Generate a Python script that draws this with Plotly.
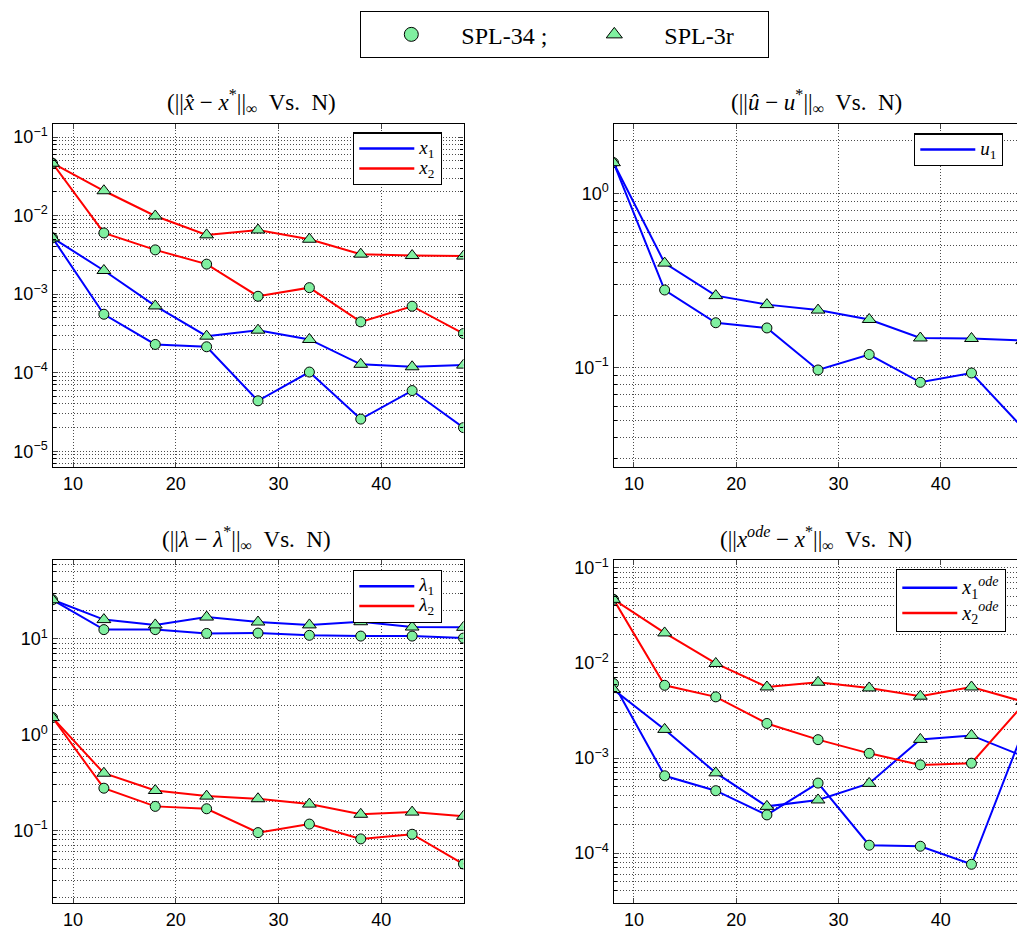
import plotly.graph_objects as go

# Number of collocation nodes
N = [8, 13, 18, 23, 28, 33, 38, 43, 48]

# ||x_hat - x*||_inf
x1_spl34 = [5.2e-3, 5.55e-4, 2.29e-4, 2.14e-4, 4.39e-5, 1.02e-4, 2.57e-5, 5.93e-5, 2.0e-5]
x1_spl3r = [5.2e-3, 2.0e-3, 7.08e-4, 2.92e-4, 3.48e-4, 2.65e-4, 1.28e-4, 1.19e-4, 1.25e-4]
x2_spl34 = [4.64e-2, 6.01e-3, 3.66e-3, 2.41e-3, 9.4e-4, 1.21e-3, 4.44e-4, 7.02e-4, 3.15e-4]
x2_spl3r = [4.64e-2, 2.07e-2, 9.89e-3, 5.68e-3, 6.56e-3, 5.0e-3, 3.23e-3, 3.1e-3, 3.05e-3]

# ||u_hat - u*||_inf
u1_spl34 = [1.50, 0.279, 0.181, 0.169, 0.097, 0.119, 0.0824, 0.0932, 0.0452]
u1_spl3r = [1.50, 0.398, 0.259, 0.230, 0.214, 0.189, 0.148, 0.147, 0.143]

# ||lambda - lambda*||_inf
l1_spl34 = [25.6, 12.5, 12.5, 11.4, 11.5, 10.9, 10.7, 10.7, 10.2]
l1_spl3r = [25.6, 15.9, 14.0, 16.9, 15.0, 14.0, 15.1, 13.3, 13.2]
l2_spl34 = [1.51, 0.277, 0.179, 0.169, 0.0953, 0.117, 0.0819, 0.0916, 0.0448]
l2_spl3r = [1.51, 0.397, 0.262, 0.229, 0.215, 0.189, 0.148, 0.156, 0.141]

# ||x_ode - x*||_inf
xo1_spl34 = [6.07e-3, 6.5e-4, 4.53e-4, 2.52e-4, 5.45e-4, 1.21e-4, 1.18e-4, 7.62e-5, 1.86e-3]
xo1_spl3r = [5.25e-3, 2.0e-3, 6.98e-4, 3.1e-4, 3.62e-4, 5.41e-4, 1.57e-3, 1.73e-3, 1.05e-3]
xo2_spl34 = [4.67e-2, 5.82e-3, 4.4e-3, 2.31e-3, 1.56e-3, 1.12e-3, 8.47e-4, 8.82e-4, 3.57e-3]
xo2_spl3r = [4.67e-2, 2.07e-2, 9.88e-3, 5.59e-3, 6.27e-3, 5.46e-3, 4.47e-3, 5.59e-3, 3.93e-3]

# Tick labels
x_ticks = [10, 20, 30, 40]
decade_labels = {
    -5: "10<sup>−5</sup>", -4: "10<sup>−4</sup>", -3: "10<sup>−3</sup>",
    -2: "10<sup>−2</sup>", -1: "10<sup>−1</sup>", 0: "10<sup>0</sup>", 1: "10<sup>1</sup>",
}

titles = [
    "(||<i>x̂</i> − <i>x</i><sup>*</sup>||<sub>∞</sub>  Vs.  N)",
    "(||<i>û</i> − <i>u</i><sup>*</sup>||<sub>∞</sub>  Vs.  N)",
    "(||<i>λ</i> − <i>λ</i><sup>*</sup>||<sub>∞</sub>  Vs.  N)",
    "(||<i>x</i><sup><i>ode</i></sup> − <i>x</i><sup>*</sup>||<sub>∞</sub>  Vs.  N)",
]

BLUE = "rgb(0,0,255)"
RED = "rgb(255,0,0)"
FILL = "rgb(128,240,160)"
GRID = "rgba(0,0,0,0.7)"
SERIF = "Liberation Serif"
SANS = "Liberation Sans"

W, H = 1017, 932


def px_x(a, b):
    return [a / W, b / W]


def px_y(top, bottom):
    return [1 - bottom / H, 1 - top / H]


# subplot layout: (x domain, y domain, x range, log y range, decades shown, full frame)
panels = [
    (px_x(52.5, 463.5), px_y(119.3, 464.5), [8, 48], [-5.2, -0.83], [-5, -4, -3, -2, -1], True),
    (px_x(613.5, 1017), px_y(119.3, 464.5), [8, 47.45], [-1.57, 0.40], [-1, 0], False),
    (px_x(52.5, 463.5), px_y(558.3, 903.3), [8, 48], [-1.76, 1.82], [-1, 0, 1], True),
    (px_x(613.5, 1017), px_y(558.3, 903.3), [8, 47.45], [-4.53, -0.92], [-4, -3, -2, -1], False),
]

series = [
    [(x1_spl34, x1_spl3r, BLUE), (x2_spl34, x2_spl3r, RED)],
    [(u1_spl34, u1_spl3r, BLUE)],
    [(l1_spl34, l1_spl3r, BLUE), (l2_spl34, l2_spl3r, RED)],
    [(xo1_spl34, xo1_spl3r, BLUE), (xo2_spl34, xo2_spl3r, RED)],
]


def big(s, size=19):
    return "<span style='font-size:%dpx'>%s</span>" % (size, s)


legend_names = [
    [big("<i>x</i><sub>1</sub>"), big("<i>x</i><sub>2</sub>")],
    [big("<i>u</i><sub>1</sub>")],
    [big("<i>λ</i><sub>1</sub>"), big("<i>λ</i><sub>2</sub>")],
    [big("<i>x</i><sub>1</sub><sup><i>ode</i></sup>", 20), big("<i>x</i><sub>2</sub><sup><i>ode</i></sup>", 20)],
]
legend_base = [13, 13, 13, 17]

# in-axes legend anchors (left, top) in pixels
legend_pos = [(353, 128), (914, 129), (353, 568), (896, 567)]
title_pos = [(251, 97), (816, 97), (246, 536), (816, 536)]

fig = go.Figure()

for i, (xd, yd, xr, yr, decades, full) in enumerate(panels):
    k = "" if i == 0 else str(i + 1)
    xa, ya = "x" + k, "y" + k
    for (s34, s3r, color) in series[i]:
        fig.add_trace(go.Scatter(
            x=N, y=s34, mode="lines+markers", xaxis=xa, yaxis=ya, showlegend=False,
            line=dict(color=color, width=2),
            marker=dict(symbol="circle", size=10, color=FILL, line=dict(color="black", width=1)),
        ))
        fig.add_trace(go.Scatter(
            x=N, y=s3r, mode="lines+markers", xaxis=xa, yaxis=ya, showlegend=False,
            line=dict(color=color, width=2),
            marker=dict(symbol="triangle-up", size=12, color=FILL, line=dict(color="black", width=1)),
        ))
    # legend entries for the components (line only)
    for (s34, s3r, color), name in zip(series[i], legend_names[i]):
        fig.add_trace(go.Scatter(
            x=[None], y=[None], mode="lines", xaxis=xa, yaxis=ya, name=name,
            line=dict(color=color, width=2.5), legend="legend" + str(i + 2),
        ))

    minor_vals = [m * 10.0 ** d for d in range(int(yr[0]) - 1, int(yr[1]) + 1) for m in range(2, 10)]
    fig.update_layout({
        "xaxis" + k: dict(
            domain=xd, range=xr, anchor=ya, tickvals=x_ticks, ticks="inside", ticklen=5,
            showline=True, linecolor="black", linewidth=1.3, mirror="ticks",
            showgrid=True, gridcolor=GRID, griddash="1px,2px", gridwidth=1, zeroline=False,
            tickfont=dict(family=SANS, size=18, color="black"),
        ),
        "yaxis" + k: dict(
            domain=yd, type="log", range=yr, anchor=xa,
            tickvals=[10.0 ** d for d in decades], ticktext=[decade_labels[d] for d in decades],
            ticks="inside", ticklen=5, showline=True, linecolor="black", linewidth=1.3,
            mirror="ticks" if full else False,
            showgrid=True, gridcolor=GRID, griddash="1px,2px", gridwidth=1, zeroline=False,
            tickfont=dict(family=SANS, size=18, color="black"),
            minor=dict(tickmode="array", tickvals=minor_vals, ticks="inside", ticklen=3,
                       tickcolor="black", showgrid=True, gridcolor=GRID,
                       griddash="1px,2px", gridwidth=1),
        ),
    })
    lx, ly = legend_pos[i]
    fig.update_layout({
        "legend" + str(i + 2): dict(
            x=lx / W, y=1 - ly / H, xanchor="left", yanchor="top",
            bgcolor="white", bordercolor="black", borderwidth=1.3,
            font=dict(family=SERIF, size=legend_base[i], color="black"),
            itemwidth=55, tracegroupgap=0,
        )
    })
    tx, ty = title_pos[i]
    fig.add_annotation(
        x=tx / W, y=1 - ty / H, xref="paper", yref="paper", showarrow=False,
        text=titles[i], font=dict(family=SERIF, size=23, color="black"),
        xanchor="center", yanchor="middle",
    )

# method markers legend at the top
fig.add_trace(go.Scatter(
    x=[None], y=[None], mode="markers", name="SPL-34 ;", legend="legend",
    marker=dict(symbol="circle", size=14, color=FILL, line=dict(color="black", width=1)),
))
fig.add_trace(go.Scatter(
    x=[None], y=[None], mode="markers", name="SPL-3r", legend="legend",
    marker=dict(symbol="triangle-up", size=14, color=FILL, line=dict(color="black", width=1)),
))

fig.update_layout(
    width=W, height=H,
    margin=dict(l=0, r=0, t=0, b=0),
    paper_bgcolor="white", plot_bgcolor="white",
    showlegend=True,
    legend=dict(
        orientation="h", x=360 / W, y=1 - 6 / H, xanchor="left", yanchor="top",
        bgcolor="white", bordercolor="black", borderwidth=1.3,
        font=dict(family=SERIF, size=24, color="black"),
        itemwidth=90, entrywidth=98,
    ),
)

fig.write_html("out.html")
